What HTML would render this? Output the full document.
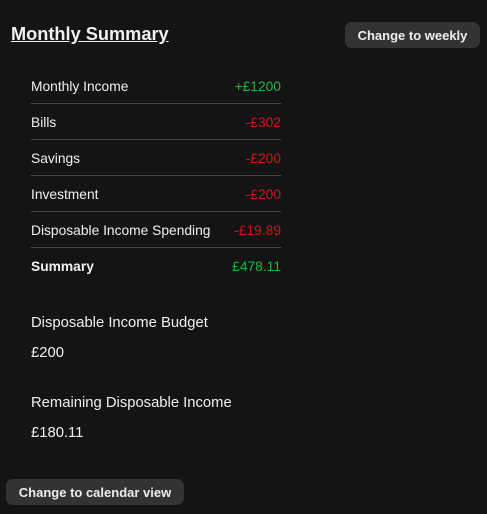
<!DOCTYPE html>
<html><head><meta charset="utf-8"><style>
body{margin:0;width:487px;height:514px;background:#141414;color:#f0f0f0;font-family:"Liberation Sans",sans-serif;position:relative;overflow:hidden}
h1{position:absolute;left:11px;top:22px;margin:0;font-size:18.2px;font-weight:bold;text-decoration:underline;line-height:24px}
.btn{position:absolute;background:#333;color:#eee;border-radius:7px;font-size:13px;font-weight:bold;display:flex;align-items:center;justify-content:center}
.row{position:absolute;left:31px;width:250px;height:36px;display:flex;justify-content:space-between;align-items:center;font-size:13.8px;border-bottom:1px solid #444;box-sizing:border-box;padding-top:1px}
.g{color:#1db83f}.r{color:#d0141b}
.t{position:absolute;left:31px;font-size:14.8px}
</style></head><body>
<h1>Monthly Summary</h1>
<div class="btn" style="left:345px;top:22px;width:135px;height:26px">Change to weekly</div>
<div class="row" style="top:68px"><span>Monthly Income</span><span class="g">+£1200</span></div>
<div class="row" style="top:104px"><span>Bills</span><span class="r">-£302</span></div>
<div class="row" style="top:140px"><span>Savings</span><span class="r">-£200</span></div>
<div class="row" style="top:176px"><span>Investment</span><span class="r">-£200</span></div>
<div class="row" style="top:212px"><span>Disposable Income Spending</span><span class="r">-£19.89</span></div>
<div class="row" style="top:248px;border-bottom:none"><span style="font-weight:bold">Summary</span><span class="g">£478.11</span></div>
<div class="t" style="top:315px">Disposable Income Budget</div>
<div class="t" style="top:345px">£200</div>
<div class="t" style="top:395px">Remaining Disposable Income</div>
<div class="t" style="top:425px">£180.11</div>
<div class="btn" style="left:6px;top:479px;width:178px;height:26px">Change to calendar view</div>
</body></html>
